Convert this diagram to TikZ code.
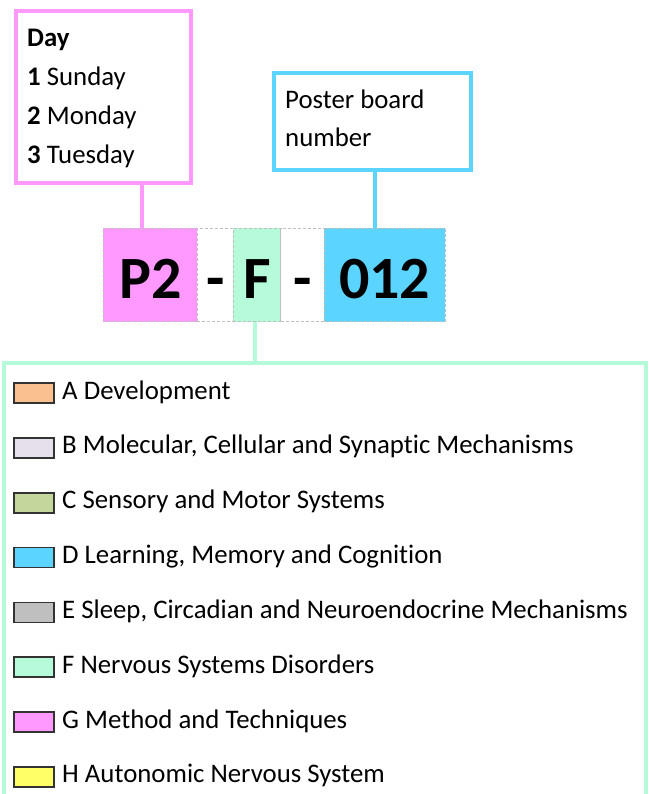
\documentclass[tikz,border=0pt]{standalone}
\usepackage{fontspec}
\setmainfont[Ligatures=NoCommon]{Carlito}
\definecolor{daypink}{HTML}{FF99FF}
\definecolor{boardblue}{HTML}{5BD4FF}
\definecolor{topicmint}{HTML}{B5FBDA}
\definecolor{devorange}{HTML}{FAC090}
\definecolor{mollav}{HTML}{E6E0EC}
\definecolor{sensolive}{HTML}{C3D69B}
\definecolor{sleepgray}{HTML}{BFBFBF}
\definecolor{autoyellow}{HTML}{FFFF66}
\begin{document}
\begin{tikzpicture}[x=1pt,y=-1pt,
  infobox/.style={draw, line width=4pt, fill=white, inner sep=0pt, outer sep=0pt, anchor=north west},
  codecell/.style={draw=gray!50, dash pattern=on 3pt off 2pt, line width=0.8pt, minimum height=93.4pt,
    inner sep=0pt, outer sep=0pt, text height=46pt, text depth=0pt, font=\fontsize{60}{60}\selectfont\bfseries},
  itemtext/.style={anchor=base west, inner sep=0pt, font=\fontsize{26.8}{26.8}\selectfont},
  swatch/.style={draw=black!80, line width=1.8pt, minimum width=40pt, minimum height=20pt, inner sep=0pt},
  link/.style={line width=4pt}]
  \useasboundingbox (0,0) rectangle (649,794);
  % day box
  \node[infobox, draw=daypink, minimum width=175pt, minimum height=172pt] (day) at (15.5,11) {};
  \node[itemtext] (dayhead) at (27,47) {\textbf{Day}};
  \node[itemtext] (day1) at (27,86) {\textbf{1} Sunday};
  \node[itemtext] (day2) at (27,125) {\textbf{2} Monday};
  \node[itemtext] (day3) at (27,164) {\textbf{3} Tuesday};
  % poster board box
  \node[infobox, draw=boardblue, minimum width=196.5pt, minimum height=97pt] (board) at (274,73.5) {};
  \node[itemtext] (board1) at (285,109) {Poster board};
  \node[itemtext] (board2) at (285,147) {number};
  % code row
  \node[codecell, fill=daypink, minimum width=94pt, anchor=north west] (p2) at (103.3,228.3) {P2};
  \node[codecell, fill=white, minimum width=36pt, anchor=west] (dashA) at (p2.east) {-};
  \node[codecell, fill=topicmint, minimum width=47.4pt, anchor=west] (fcell) at (dashA.east) {F};
  \node[codecell, fill=white, minimum width=43.6pt, anchor=west] (dashB) at (fcell.east) {-};
  \node[codecell, fill=boardblue, minimum width=120.7pt, anchor=west] (num) at (dashB.east) {012};
  % connectors
  \coordinate (dayfoot) at (141.7,183);
  \coordinate (boardfoot) at (375,170.5);
  \coordinate (legtop) at (255,362.5);
  \draw[link, daypink] (dayfoot) -- (dayfoot |- p2.north);
  \draw[link, boardblue] (boardfoot) -- (boardfoot |- num.north);
  \draw[link, topicmint] (legtop |- fcell.south) -- (legtop);
  % topic legend
  \draw[link, topicmint] (4,794) -- (4,362.5) -- (645.5,362.5) -- (645.5,794);
  \foreach \k/\tcol/\txt [count=\i from 0] in {
      A/devorange/Development,
      B/mollav/{Molecular, Cellular and Synaptic Mechanisms},
      C/sensolive/Sensory and Motor Systems,
      D/boardblue/{Learning, Memory and Cognition},
      E/sleepgray/{Sleep, Circadian and Neuroendocrine Mechanisms},
      F/topicmint/Nervous Systems Disorders,
      G/daypink/Method and Techniques,
      H/autoyellow/Autonomic Nervous System} {
    \node[swatch, fill=\tcol] (sw\k) at (34,{393+54.85*\i}) {};
    \node[itemtext] (it\k) at (62,{399+54.85*\i}) {\k\ \txt};
  }
\end{tikzpicture}
\end{document}
